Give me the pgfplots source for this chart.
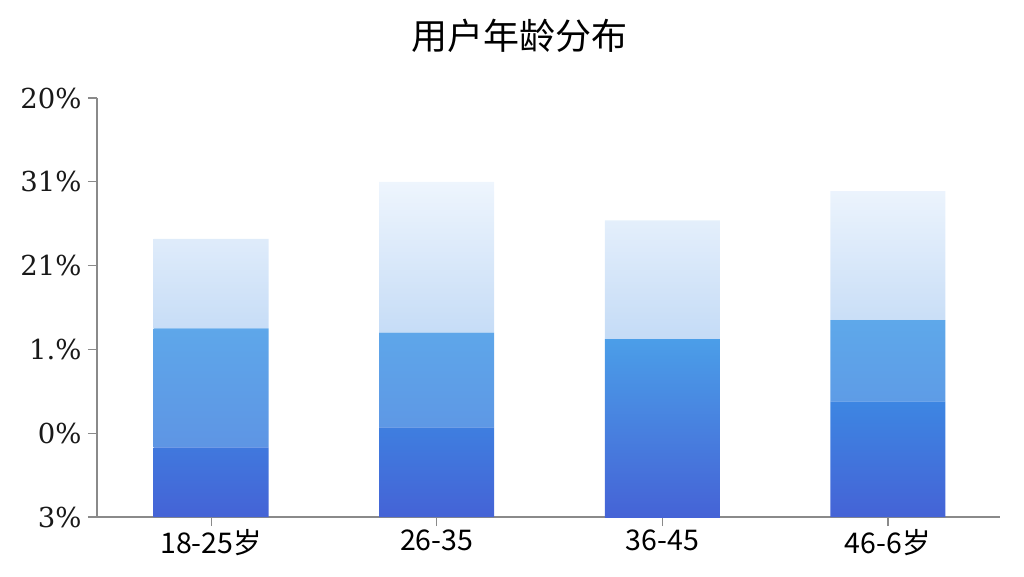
\documentclass[border=0pt]{standalone}
\usepackage{fontspec}
\usepackage{pgfplots}
\pgfplotsset{compat=1.18}
\newfontfamily\cjk{Noto Sans CJK SC}
\newfontfamily\ytfont{DejaVu Serif}

\definecolor{axisgray}{HTML}{8A8A8A}
\definecolor{darkTop}{HTML}{3D86E2}
\definecolor{darkBot}{HTML}{4563D6}
\definecolor{midTop}{HTML}{5EA8EA}
\definecolor{midBot}{HTML}{5E95E4}
\definecolor{lightTop}{HTML}{EEF5FD}
\definecolor{lightBot}{HTML}{C4DBF6}
\definecolor{solidTop}{HTML}{4B9EE8}

\begin{document}
\begin{tikzpicture}
\useasboundingbox (-97pt,-59pt) rectangle (927pt,517pt);
\begin{axis}[
    scale only axis,
    width=903pt, height=419pt,
    xmin=-0.506, xmax=3.497,
    ymin=0, ymax=5,
    ybar stacked,
    bar width=115pt,
    axis x line*=bottom,
    axis y line*=left,
    axis line style={axisgray, line width=1.2pt, -},
    tick style={axisgray, line width=1.2pt},
    tick align=outside,
    major tick length=9pt,
    xtick={0,1,2,3},
    xticklabels={18-25岁, 26-35, 36-45, 46-6岁},
    xticklabel style={font=\cjk\fontsize{28.5}{32}\selectfont, text=black, yshift=0pt},
    ytick={0,1,2,3,4,5},
    yticklabels={3\%, 0\%, 1.\%, 21\%, 31\%, 20\%},
    yticklabel style={font=\ytfont\fontsize{27.5}{32}\selectfont, text=black!90, xshift=-3pt},
    title={\cjk\fontsize{36}{40}\selectfont 用户年龄分布},
    title style={at={(rel axis cs:0.468,1)}, anchor=center, yshift=56pt},
    clip=false,
]
% dark bottom segment
\addplot[draw=none, top color=darkTop, bottom color=darkBot, shading=axis]
  coordinates {(0,0.83) (1,1.07) (2,0) (3,1.38)};
% 36-45 single solid segment
\addplot[draw=none, top color=solidTop, bottom color=darkBot, shading=axis]
  coordinates {(0,0) (1,0) (2,2.12) (3,0)};
% middle segment
\addplot[draw=none, top color=midTop, bottom color=midBot, shading=axis]
  coordinates {(0,1.42) (1,1.13) (2,0) (3,0.97)};
% light top segment
\addplot[draw=none, top color=lightTop, bottom color=lightBot, shading=axis]
  coordinates {(0,1.07) (1,1.80) (2,1.42) (3,1.54)};
\end{axis}
\end{tikzpicture}
\end{document}
